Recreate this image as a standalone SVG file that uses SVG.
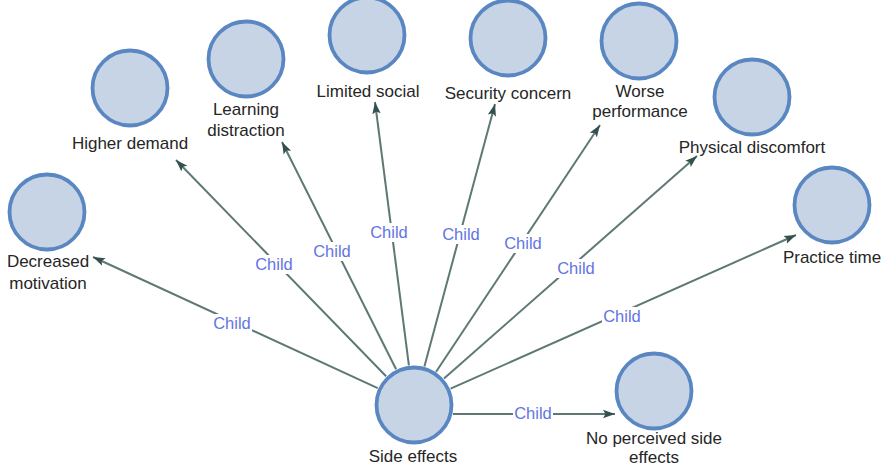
<svg xmlns="http://www.w3.org/2000/svg" width="886" height="468" viewBox="0 0 886 468">
  <defs>
    <marker id="arrow" markerUnits="userSpaceOnUse" markerWidth="14" markerHeight="10" refX="12" refY="5" orient="auto">
      <path d="M0,0.8 L12,5 L0,9.2 L2.5,5 z" fill="#34504e"/>
    </marker>
    <style>
      .node circle { fill: #c6d4e6; stroke: #5a87c2; stroke-width: 3.8; }
      .node text { font-family: "Liberation Sans", Arial, sans-serif; font-size: 17px; fill: #262626; text-anchor: middle; }
      .edge { stroke: #5e7875; stroke-width: 2; fill: none; marker-end: url(#arrow); }
      .lbl rect { fill: #fff; }
      .lbl text { font-family: "Liberation Sans", Arial, sans-serif; font-size: 16.5px; fill: #6275e2; text-anchor: middle; }
    </style>
  </defs>
  <rect width="886" height="468" fill="#fff"/>

  <!-- connectors: Side effects -> each child -->
  <g id="connectors">
    <line class="edge" x1="377.7" y1="388.2" x2="93" y2="257"/>
    <line class="edge" x1="386.1" y1="376.3" x2="176" y2="160"/>
    <line class="edge" x1="396.1" y1="369.3" x2="282" y2="142"/>
    <line class="edge" x1="408.9" y1="365.3" x2="375" y2="102"/>
    <line class="edge" x1="424.4" y1="366.4" x2="495" y2="104"/>
    <line class="edge" x1="436.1" y1="371.7" x2="600" y2="125"/>
    <line class="edge" x1="444" y1="378.6" x2="697" y2="156"/>
    <line class="edge" x1="450.6" y1="388.7" x2="796" y2="235"/>
    <line class="edge" x1="453" y1="414" x2="615" y2="414"/>

    <g class="lbl"><rect x="212" y="314" width="40" height="19"/><text x="232" y="329">Child</text></g>
    <g class="lbl"><rect x="254" y="255" width="40" height="19"/><text x="274" y="270">Child</text></g>
    <g class="lbl"><rect x="312" y="242" width="40" height="19"/><text x="332" y="257">Child</text></g>
    <g class="lbl"><rect x="369" y="223" width="40" height="19"/><text x="389" y="238">Child</text></g>
    <g class="lbl"><rect x="441" y="225" width="40" height="19"/><text x="461" y="240">Child</text></g>
    <g class="lbl"><rect x="503" y="234" width="40" height="19"/><text x="523" y="249">Child</text></g>
    <g class="lbl"><rect x="556" y="259" width="40" height="19"/><text x="576" y="274">Child</text></g>
    <g class="lbl"><rect x="602" y="307" width="40" height="19"/><text x="622" y="322">Child</text></g>
    <g class="lbl"><rect x="513" y="404" width="40" height="19"/><text x="533" y="419">Child</text></g>
  </g>

  <g id="side-effects" class="node">
    <circle cx="414" cy="405" r="37.5"/>
    <text x="413" y="462">Side effects</text>
  </g>
  <g id="decreased-motivation" class="node">
    <circle cx="47" cy="212" r="37.5"/>
    <text x="48" y="267">Decreased</text>
    <text x="48" y="289">motivation</text>
  </g>
  <g id="higher-demand" class="node">
    <circle cx="130" cy="88" r="37.5"/>
    <text x="130" y="149">Higher demand</text>
  </g>
  <g id="learning-distraction" class="node">
    <circle cx="246" cy="59" r="37.5"/>
    <text x="246" y="115">Learning</text>
    <text x="246" y="136">distraction</text>
  </g>
  <g id="limited-social" class="node">
    <circle cx="367" cy="35" r="37.5"/>
    <text x="368" y="97">Limited social</text>
  </g>
  <g id="security-concern" class="node">
    <circle cx="508" cy="38" r="37.5"/>
    <text x="508" y="99">Security concern</text>
  </g>
  <g id="worse-performance" class="node">
    <circle cx="639" cy="41" r="37.5"/>
    <text x="640" y="97">Worse</text>
    <text x="640" y="117">performance</text>
  </g>
  <g id="physical-discomfort" class="node">
    <circle cx="752" cy="97" r="37.5"/>
    <text x="752" y="153">Physical discomfort</text>
  </g>
  <g id="practice-time" class="node">
    <circle cx="832" cy="205" r="37.5"/>
    <text x="832" y="263">Practice time</text>
  </g>
  <g id="no-perceived-side-effects" class="node">
    <circle cx="654" cy="391" r="37.5"/>
    <text x="654" y="444">No perceived side</text>
    <text x="654" y="463">effects</text>
  </g>
</svg>
